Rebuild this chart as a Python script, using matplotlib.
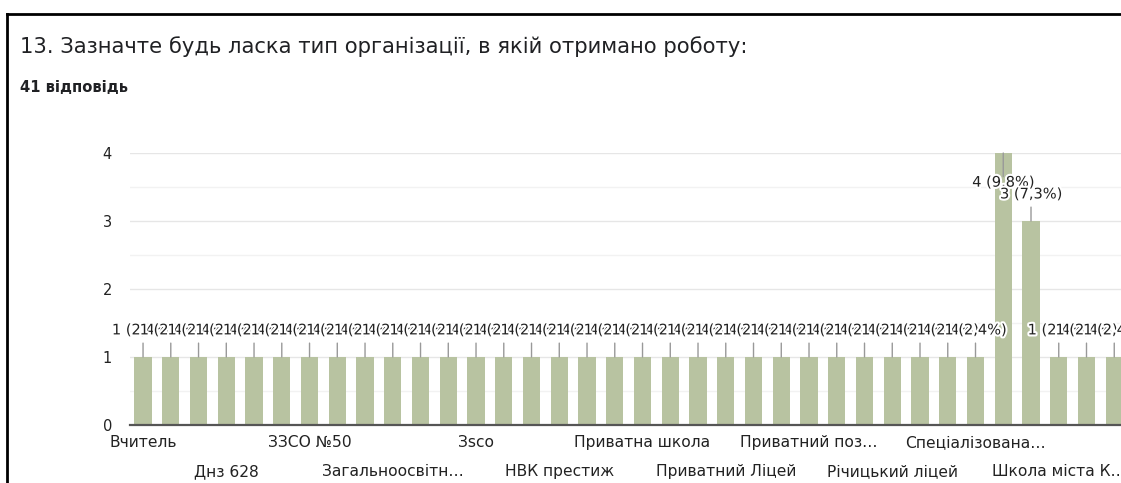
import matplotlib
matplotlib.use("Agg")
import matplotlib.pyplot as plt
import matplotlib.patheffects as pe
from matplotlib.lines import Line2D

# ---------------- Data ----------------
title = "13. Зазначте будь ласка тип організації, в якій отримано роботу:"
subtitle = "41 відповідь"

counts = [1, 1, 1, 1, 1, 1, 1, 1, 1, 1,
          1, 1, 1, 1, 1, 1, 1, 1, 1, 1,
          1, 1, 1, 1, 1, 1, 1, 1, 1, 1,
          1, 4, 3, 1, 1, 1]
total = 41

# only every third category label is shown in the chart
tick_pos = [0, 3, 6, 9, 12, 15, 18, 21, 24, 27, 30, 33]
tick_labels = ["Вчитель", "Днз 628", "ЗЗСО №50", "Загальноосвітн…", "Зsco",
               "НВК престиж", "Приватна школа", "Приватний Ліцей",
               "Приватний поз…", "Річицький ліцей", "Спеціалізована…",
               "Школа міста К…"]

# ---------------- Style ----------------
W, H = 1121, 483
bar_color = "#b8c3a1"
txt_color = "#222222"
chart_font = ["DejaVu Sans"]

fig = plt.figure(figsize=(W / 100, H / 100), dpi=100, facecolor="white")
ax = fig.add_axes([130 / W, (H - 425) / H, (W - 130) / W, (425 - 153) / H])

x = list(range(len(counts)))
ax.bar(x, counts, width=0.62, color=bar_color, zorder=2)

ax.set_ylim(0, 4)
ax.set_xlim(-0.47, (W - 143) / 27.75)

# grid
ax.set_yticks([0, 1, 2, 3, 4])
ax.set_yticks([0.5, 1.5, 2.5, 3.5], minor=True)
ax.yaxis.grid(True, which="major", color="#e6e6e6", lw=1, zorder=0)
ax.yaxis.grid(True, which="minor", color="#f2f2f2", lw=1, zorder=0)
ax.tick_params(axis="y", which="both", length=0, pad=13, labelsize=10.5,
               labelcolor=txt_color)
for lab in ax.get_yticklabels():
    lab.set_family(chart_font)

# x labels, staggered on two rows
ax.set_xticks(tick_pos[0::2])
ax.set_xticklabels(tick_labels[0::2], family=chart_font)
ax.set_xticks(tick_pos[1::2], minor=True)
ax.set_xticklabels(tick_labels[1::2], minor=True, family=chart_font)
ax.tick_params(axis="x", which="major", length=0, pad=7, labelsize=11.2,
               labelcolor=txt_color)
ax.tick_params(axis="x", which="minor", length=0, pad=28, labelsize=11.2,
               labelcolor=txt_color)

for s in ["top", "right", "left"]:
    ax.spines[s].set_visible(False)
ax.spines["bottom"].set_color("#555555")
ax.spines["bottom"].set_linewidth(1.6)
ax.spines["bottom"].set_zorder(3)

# value labels with leader lines
halo = [pe.withStroke(linewidth=3, foreground="white")]
ymax = ax.get_ylim()[1]
for i, v in enumerate(counts):
    pct = f"{v / total * 100:.1f}".replace(".", ",")
    label = f"{v} ({pct}%)"
    if v >= ymax:
        line_off, text_off = -17, -21
    else:
        line_off, text_off = 10, 19.5
    ax.annotate("", xy=(i, v), xytext=(0, line_off), textcoords="offset points",
                arrowprops=dict(arrowstyle="-", color="#999999", lw=1,
                                shrinkA=0, shrinkB=0), zorder=4)
    ax.annotate(label, xy=(i, v), xytext=(0, text_off), textcoords="offset points",
                ha="center", va="center", fontsize=10.5, color=txt_color,
                family=chart_font, path_effects=halo, zorder=5)

# titles
fig.text(20 / W, 1 - 47 / H, title, fontsize=15.2, family=["DejaVu Sans"],
         color="#202124", va="center", ha="left")
fig.text(20 / W, 1 - 87 / H, subtitle, fontsize=10.6, family=chart_font,
         weight="bold", color="#202124", va="center", ha="left")

# frame on the left and top edge
fig.add_artist(Line2D([7 / W, 1], [1 - 14 / H, 1 - 14 / H], color="black", lw=2,
                      transform=fig.transFigure))
fig.add_artist(Line2D([7 / W, 7 / W], [0, 1 - 14 / H], color="black", lw=2,
                      transform=fig.transFigure))

fig.savefig("out.png", dpi=100)
